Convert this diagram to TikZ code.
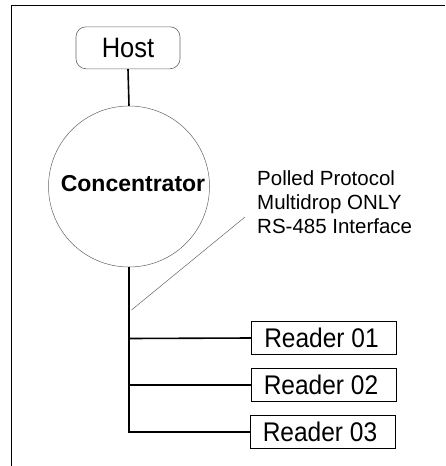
\documentclass[tikz,border=0pt]{standalone}
\usepackage{fontspec}
\setmainfont{Liberation Sans}
\newcommand{\tallish}[1]{\scalebox{1}[1.1]{#1}}
\begin{document}
\begin{tikzpicture}[x=1pt,y=-1pt,
  hostbox/.style={draw=black!60,line width=0.6pt,rounded corners=10pt,minimum width=104pt,minimum height=42pt,inner sep=0pt,font=\fontsize{25.5}{30}\selectfont},
  readerbox/.style={draw=black,line width=1pt,minimum width=145pt,minimum height=33pt,inner sep=0pt,font=\fontsize{24.5}{28}\selectfont},
  bus/.style={line width=1.6pt,black},
  leader/.style={line width=0.5pt,black!60}]
\useasboundingbox (0,0) rectangle (445,466);
\draw[line width=1pt] (445,5) -- (11,5) -- (11,466);
\node[hostbox] (host) at (128,47.8) {\tallish{Host}};
\node[draw=black!60,line width=0.5pt,circle,minimum size=161pt,inner sep=0pt] (conc) at (129,186.5) {};
\node[anchor=base,inner sep=0pt,font=\bfseries\fontsize{23}{28}\selectfont] (conclbl) at (133,191) {Concentrator};
\node[readerbox,text depth=0pt] (r1) at (324,338) {\hspace*{-5pt}\tallish{Reader 01}};
\node[readerbox,text depth=0pt] (r2) at (323.5,385) {\hspace*{-5pt}\tallish{Reader 02}};
\node[readerbox,text depth=0pt] (r3) at (322.5,431.7) {\hspace*{-5pt}\tallish{Reader 03}};
\node[anchor=north west,align=left,inner sep=0pt,font=\fontsize{20.5}{24}\selectfont] (note) at (257,170) {Polled Protocol\\Multidrop ONLY\\RS-485 Interface};
\coordinate (b1) at (129,338.5);
\coordinate (b2) at (129,385);
\coordinate (b3) at (129,431.7);
\coordinate (leadtop) at (245,217);
\coordinate (leadbot) at (131.5,310);
\draw[bus] (host.south) -- (conc.north);
\draw[bus] (conc.south) -- (b3) -- (r3.west);
\draw[bus] (b1) -- (r1.west);
\draw[bus] (b2) -- (r2.west);
\draw[leader] (leadtop) -- (leadbot);
\end{tikzpicture}
\end{document}
